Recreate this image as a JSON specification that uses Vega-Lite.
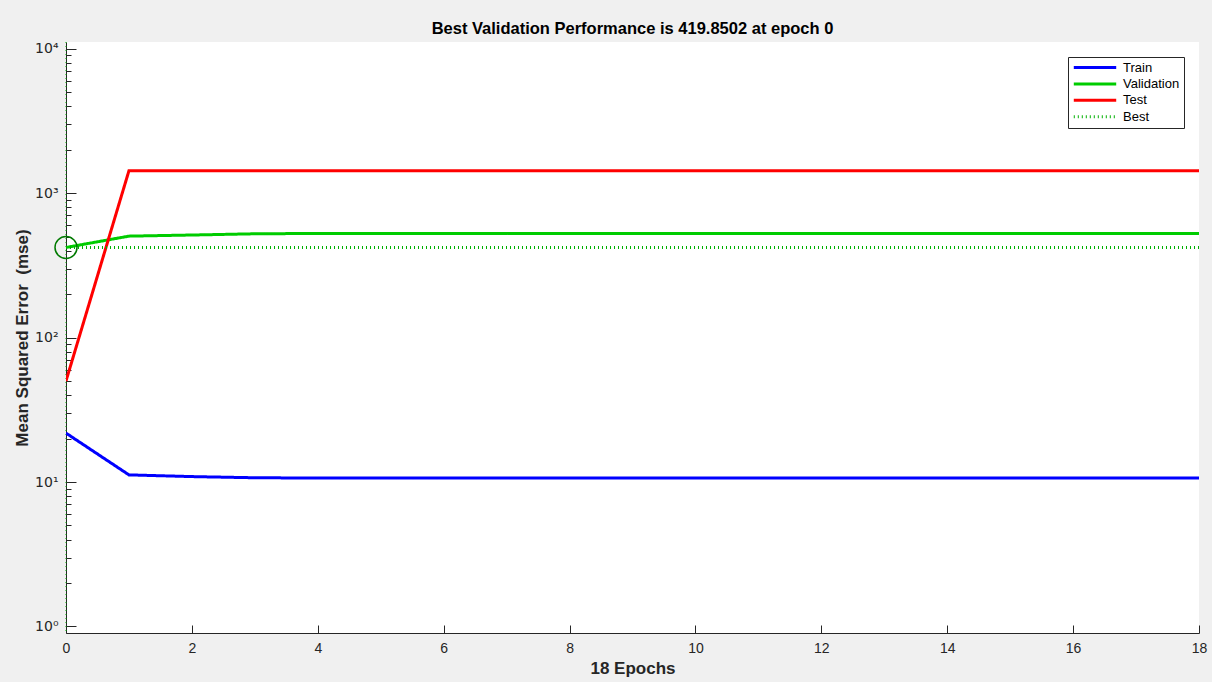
{
  "$schema": "https://vega.github.io/schema/vega-lite/v6.json",
  "width": 1133,
  "height": 591,
  "autosize": "none",
  "padding": {"left": 66, "top": 42, "right": 13, "bottom": 49},
  "background": "#F0F0F0",
  "config": {
    "view": {"fill": "white", "stroke": null},
    "font": "Liberation Sans",
    "axis": {"labelFont": "Liberation Sans", "titleFont": "Liberation Sans", "labelColor": "#262626", "titleColor": "#262626", "domainColor": "#262626", "tickColor": "#262626", "grid": false}
  },
  "title": {"text": "Best Validation Performance is 419.8502 at epoch 0", "fontSize": 16.5, "fontWeight": "bold", "font": "Liberation Sans", "color": "#000000", "offset": 4},
  "datasets": {
    "perf": [
      {"epoch": 0, "series": "Train", "mse": 21.8},
      {"epoch": 1, "series": "Train", "mse": 11.2},
      {"epoch": 2, "series": "Train", "mse": 10.9},
      {"epoch": 3, "series": "Train", "mse": 10.7},
      {"epoch": 4, "series": "Train", "mse": 10.65},
      {"epoch": 5, "series": "Train", "mse": 10.65},
      {"epoch": 6, "series": "Train", "mse": 10.65},
      {"epoch": 7, "series": "Train", "mse": 10.65},
      {"epoch": 8, "series": "Train", "mse": 10.65},
      {"epoch": 9, "series": "Train", "mse": 10.65},
      {"epoch": 10, "series": "Train", "mse": 10.65},
      {"epoch": 11, "series": "Train", "mse": 10.65},
      {"epoch": 12, "series": "Train", "mse": 10.65},
      {"epoch": 13, "series": "Train", "mse": 10.65},
      {"epoch": 14, "series": "Train", "mse": 10.65},
      {"epoch": 15, "series": "Train", "mse": 10.65},
      {"epoch": 16, "series": "Train", "mse": 10.65},
      {"epoch": 17, "series": "Train", "mse": 10.65},
      {"epoch": 18, "series": "Train", "mse": 10.65},
      {"epoch": 0, "series": "Validation", "mse": 419.85},
      {"epoch": 1, "series": "Validation", "mse": 503},
      {"epoch": 2, "series": "Validation", "mse": 512},
      {"epoch": 3, "series": "Validation", "mse": 522},
      {"epoch": 4, "series": "Validation", "mse": 525},
      {"epoch": 5, "series": "Validation", "mse": 525},
      {"epoch": 6, "series": "Validation", "mse": 525},
      {"epoch": 7, "series": "Validation", "mse": 525},
      {"epoch": 8, "series": "Validation", "mse": 525},
      {"epoch": 9, "series": "Validation", "mse": 525},
      {"epoch": 10, "series": "Validation", "mse": 525},
      {"epoch": 11, "series": "Validation", "mse": 525},
      {"epoch": 12, "series": "Validation", "mse": 525},
      {"epoch": 13, "series": "Validation", "mse": 525},
      {"epoch": 14, "series": "Validation", "mse": 525},
      {"epoch": 15, "series": "Validation", "mse": 525},
      {"epoch": 16, "series": "Validation", "mse": 525},
      {"epoch": 17, "series": "Validation", "mse": 525},
      {"epoch": 18, "series": "Validation", "mse": 525},
      {"epoch": 0, "series": "Test", "mse": 50},
      {"epoch": 1, "series": "Test", "mse": 1425},
      {"epoch": 2, "series": "Test", "mse": 1425},
      {"epoch": 3, "series": "Test", "mse": 1425},
      {"epoch": 4, "series": "Test", "mse": 1425},
      {"epoch": 5, "series": "Test", "mse": 1425},
      {"epoch": 6, "series": "Test", "mse": 1425},
      {"epoch": 7, "series": "Test", "mse": 1425},
      {"epoch": 8, "series": "Test", "mse": 1425},
      {"epoch": 9, "series": "Test", "mse": 1425},
      {"epoch": 10, "series": "Test", "mse": 1425},
      {"epoch": 11, "series": "Test", "mse": 1425},
      {"epoch": 12, "series": "Test", "mse": 1425},
      {"epoch": 13, "series": "Test", "mse": 1425},
      {"epoch": 14, "series": "Test", "mse": 1425},
      {"epoch": 15, "series": "Test", "mse": 1425},
      {"epoch": 16, "series": "Test", "mse": 1425},
      {"epoch": 17, "series": "Test", "mse": 1425},
      {"epoch": 18, "series": "Test", "mse": 1425},
      {"epoch": 0, "series": "Best", "mse": 419.85},
      {"epoch": 18, "series": "Best", "mse": 419.85}
    ],
    "best": [{"epoch": 0, "mse": 419.85}]
  },
  "layer": [
    {
      "data": {"name": "best"},
      "mark": {"type": "rule", "color": "#00B000", "strokeWidth": 1, "strokeDash": [1, 3]},
      "encoding": {
        "x": {"field": "epoch", "type": "quantitative", "scale": {"domain": [0, 18], "nice": false}}
      }
    },
    {
      "data": {"name": "perf"},
      "mark": {"type": "line", "clip": true},
      "encoding": {
        "x": {
          "field": "epoch", "type": "quantitative",
          "scale": {"domain": [0, 18], "nice": false},
          "axis": {"title": "18 Epochs", "titleFontSize": 17, "titleFontWeight": "bold", "titlePadding": 5, "values": [0, 2, 4, 6, 8, 10, 12, 14, 16, 18], "format": "d", "labelFontSize": 14, "tickSize": -8, "labelPadding": 16, "labelFlush": false}
        },
        "y": {
          "field": "mse", "type": "quantitative",
          "scale": {"type": "log", "domain": [0.9016, 11092], "nice": false},
          "axis": {
            "title": "Mean Squared Error\u00a0 (mse)", "titleFontSize": 17, "titleFontWeight": "bold", "titlePadding": 3,
            "values": [1, 2, 3, 4, 5, 6, 7, 8, 9, 10, 20, 30, 40, 50, 60, 70, 80, 90, 100, 200, 300, 400, 500, 600, 700, 800, 900, 1000, 2000, 3000, 4000, 5000, 6000, 7000, 8000, 9000, 10000],
            "labelExpr": "datum.value == 1 ? '10⁰' : datum.value == 10 ? '10¹' : datum.value == 100 ? '10²' : datum.value == 1000 ? '10³' : datum.value == 10000 ? '10⁴' : ''",
            "labelFont": "DejaVu Sans",
            "labelFontSize": 14,
            "labelPadding": 18,
            "tickSize": {"condition": {"test": "datum.value == 1 || datum.value == 10 || datum.value == 100 || datum.value == 1000 || datum.value == 10000", "value": -10}, "value": -5}
          }
        },
        "color": {
          "field": "series", "type": "nominal",
          "scale": {"domain": ["Train", "Validation", "Test", "Best"], "range": ["#0000FF", "#00CC00", "#FF0000", "#00B000"]},
          "legend": {
            "title": null, "orient": "none", "legendX": 1002, "legendY": 15,
            "symbolType": "stroke", "symbolSize": 1800, "clipHeight": 13, "labelFontSize": 13, "labelColor": "#000000",
            "fillColor": "white", "strokeColor": "#262626", "padding": 4, "rowPadding": 2.4, "labelOffset": 5
          }
        },
        "strokeDash": {
          "field": "series", "type": "nominal",
          "scale": {"domain": ["Train", "Validation", "Test", "Best"], "range": [[1, 0], [1, 0], [1, 0], [1, 3]]}
        },
        "strokeWidth": {
          "field": "series", "type": "ordinal",
          "scale": {"domain": ["Train", "Validation", "Test", "Best"], "range": [3, 3, 3, 1]}
        }
      }
    },
    {
      "data": {"name": "best"},
      "mark": {"type": "point", "shape": "circle", "size": 484, "filled": false, "color": "#007A00", "strokeWidth": 1.5, "opacity": 1},
      "encoding": {
        "x": {"field": "epoch", "type": "quantitative"},
        "y": {"field": "mse", "type": "quantitative"}
      }
    }
  ]
}
